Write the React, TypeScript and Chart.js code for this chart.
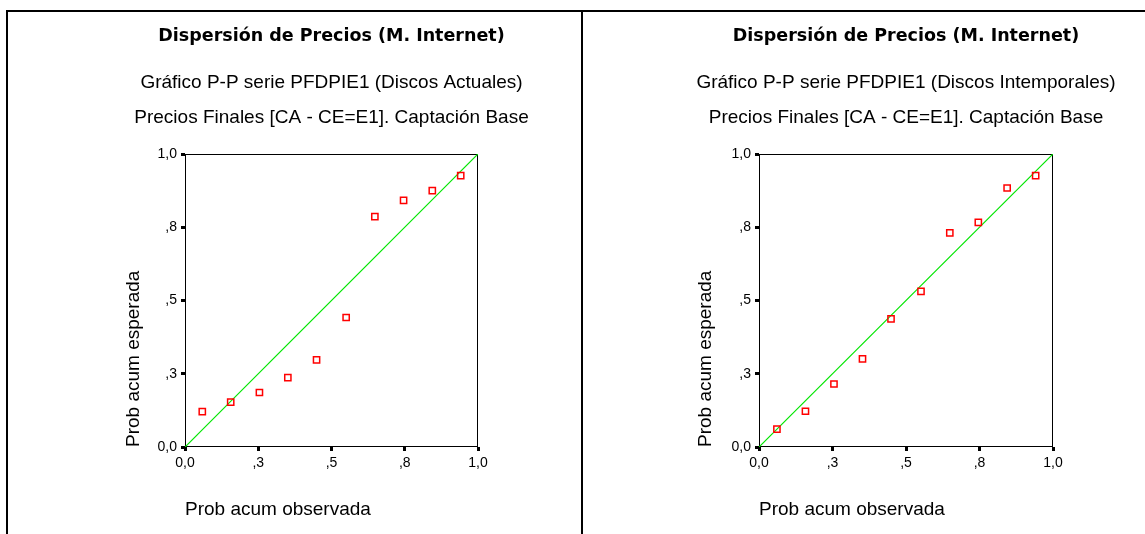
import React, { useEffect, useRef } from 'react';
import { Chart, registerables } from 'chart.js';

Chart.register(...registerables);

// ---- data ----
const tickValues = [0, 0.25, 0.5, 0.75, 1];
const tickLabels = ['0,0', ',3', ',5', ',8', '1,0'];
const refLineX = [0, 1];
const refLineY = [0, 1];

const chartTitle = 'Dispersión de Precios (M. Internet)';
const subtitleLeft = ['Gráfico P-P serie PFDPIE1 (Discos Actuales)', 'Precios Finales [CA - CE=E1]. Captación Base'];
const subtitleRight = ['Gráfico P-P serie PFDPIE1 (Discos Intemporales)', 'Precios Finales [CA - CE=E1]. Captación Base'];
const xAxisTitle = 'Prob acum observada';
const yAxisTitle = 'Prob acum esperada';

const observedLeft = [0.059, 0.156, 0.254, 0.351, 0.449, 0.55, 0.648, 0.746, 0.844, 0.941];
const expectedLeft = [0.121, 0.153, 0.186, 0.237, 0.297, 0.442, 0.786, 0.842, 0.875, 0.926];

const observedRight = [0.061, 0.158, 0.255, 0.352, 0.449, 0.551, 0.649, 0.746, 0.844, 0.941];
const expectedRight = [0.061, 0.122, 0.215, 0.301, 0.437, 0.531, 0.731, 0.767, 0.884, 0.926];

const SANS = '"Liberation Sans", Arial, sans-serif';
const BOLD = '"DejaVu Sans", sans-serif';
const LINE_GREEN = '#00e600';

const framePlugin = {
  id: 'frame',
  beforeDatasetsDraw(chart: any) {
    const { ctx, chartArea } = chart;
    ctx.save();
    ctx.strokeStyle = '#000';
    ctx.lineWidth = 1;
    const x0 = Math.round(chartArea.left) + 0.5;
    const y0 = Math.round(chartArea.top) + 0.5;
    const x1 = Math.round(chartArea.right) - 0.5;
    const y1 = Math.round(chartArea.bottom) - 0.5;
    ctx.strokeRect(x0, y0, x1 - x0, y1 - y0);
    ctx.restore();
  },
};

type PPProps = {
  width: number;
  height: number;
  subtitle: string[];
  xs: number[];
  ys: number[];
  padLeft: number;
  yAxisWidth: number;
  rightAxisWidth: number;
  yTitleCenter: number;
};

function PPChart(props: PPProps) {
  const ref = useRef<HTMLCanvasElement | null>(null);
  useEffect(() => {
    if (!ref.current) return;
    const { width, height, subtitle, xs, ys, padLeft, yAxisWidth, rightAxisWidth, yTitleCenter } = props;
    const chartAreaBottom = 435;
    const xAxisHeight = height - chartAreaBottom;
    const tickOpts = {
      color: '#000',
      font: { family: SANS, size: 14 },
      padding: 4,
      autoSkip: false,
      maxRotation: 0,
      callback: (_v: any, i: number) => tickLabels[i],
    };
    const gridOpts = {
      drawOnChartArea: false,
      drawTicks: true,
      tickLength: 4,
      tickWidth: 3,
      tickColor: '#000',
    };
    const chart = new Chart(ref.current, {
      type: 'scatter',
      data: {
        datasets: [
          {
            label: 'ref',
            data: refLineX.map((x, i) => ({ x, y: refLineY[i] })),
            showLine: true,
            borderColor: LINE_GREEN,
            backgroundColor: LINE_GREEN,
            pointBorderColor: LINE_GREEN,
            borderWidth: 1.2,
            pointRadius: 0,
            pointHoverRadius: 0,
            fill: false,
            order: 2,
          },
          {
            label: 'pp',
            data: xs.map((x, i) => ({ x, y: ys[i] })),
            showLine: false,
            pointStyle: 'rect',
            pointRadius: 4.4,
            pointBorderWidth: 1.5,
            borderColor: '#ff0000',
            pointBorderColor: '#ff0000',
            backgroundColor: 'rgba(0,0,0,0)',
            pointBackgroundColor: 'rgba(0,0,0,0)',
            order: 1,
          },
        ],
      },
      options: {
        responsive: false,
        animation: false,
        elements: { line: { borderColor: LINE_GREEN } },
        layout: { padding: { left: padLeft, right: 0, top: 0, bottom: 0 } },
        plugins: {
          colors: { enabled: false },
          legend: { display: false },
          tooltip: { enabled: false },
          title: {
            display: true,
            text: chartTitle,
            color: '#000',
            fullSize: true,
            font: { family: BOLD, size: 17.5, weight: 'bold', lineHeight: 1.2 },
            padding: { top: 13.5, bottom: 0 },
          },
          subtitle: {
            display: true,
            text: subtitle,
            color: '#000',
            fullSize: true,
            font: { family: SANS, size: 19, weight: 'normal', lineHeight: 35 / 19 },
            padding: { top: 19, bottom: 18.5 },
          },
        },
        scales: {
          x: {
            type: 'linear',
            min: 0,
            max: 1,
            afterBuildTicks: (s: any) => {
              s.ticks = tickValues.map((v) => ({ value: v }));
            },
            afterFit: (s: any) => {
              s.height = xAxisHeight;
            },
            ticks: tickOpts,
            grid: gridOpts,
            border: { display: false },
            title: {
              display: true,
              text: xAxisTitle,
              align: 'start',
              color: '#000',
              font: { family: SANS, size: 19, lineHeight: 1.2 },
              padding: { top: 0, bottom: 12.6 },
            },
          },
          y: {
            type: 'linear',
            min: 0,
            max: 1,
            afterBuildTicks: (s: any) => {
              s.ticks = tickValues.map((v) => ({ value: v }));
            },
            afterFit: (s: any) => {
              s.width = yAxisWidth;
            },
            ticks: tickOpts,
            grid: gridOpts,
            border: { display: false },
            title: {
              display: true,
              text: yAxisTitle,
              align: 'start',
              color: '#000',
              font: { family: SANS, size: 19, lineHeight: 1.2 },
              padding: { top: yTitleCenter - padLeft - 11.4, bottom: 0 },
            },
          },
          yRight: {
            type: 'linear',
            position: 'right',
            display: true,
            min: 0,
            max: 1,
            afterFit: (s: any) => {
              s.width = rightAxisWidth;
            },
            ticks: { display: false },
            grid: { display: false },
            border: { display: false },
          },
        },
      } as any,
      plugins: [framePlugin],
    });
    return () => chart.destroy();
  }, []);
  return <canvas ref={ref} width={props.width} height={props.height} style={{ display: 'block' }} />;
}

export default function App() {
  return (
    <div style={{ position: 'absolute', left: 0, top: 0, width: 1145, height: 534, background: '#fff', overflow: 'hidden' }}>
      <div style={{ position: 'absolute', left: 6, top: 10, width: 1139, height: 2, background: '#000' }} />
      <div style={{ position: 'absolute', left: 6, top: 10, width: 2, height: 524, background: '#000' }} />
      <div style={{ position: 'absolute', left: 581, top: 10, width: 2, height: 524, background: '#000' }} />
      <div style={{ position: 'absolute', left: 8, top: 12 }}>
        <PPChart width={573} height={522} subtitle={subtitleLeft} xs={observedLeft} ys={expectedLeft} padLeft={74} yAxisWidth={103} rightAxisWidth={103} yTitleCenter={125.5} />
      </div>
      <div style={{ position: 'absolute', left: 583, top: 12 }}>
        <PPChart width={562} height={522} subtitle={subtitleRight} xs={observedRight} ys={expectedRight} padLeft={84} yAxisWidth={92} rightAxisWidth={92} yTitleCenter={123} />
      </div>
    </div>
  );
}
